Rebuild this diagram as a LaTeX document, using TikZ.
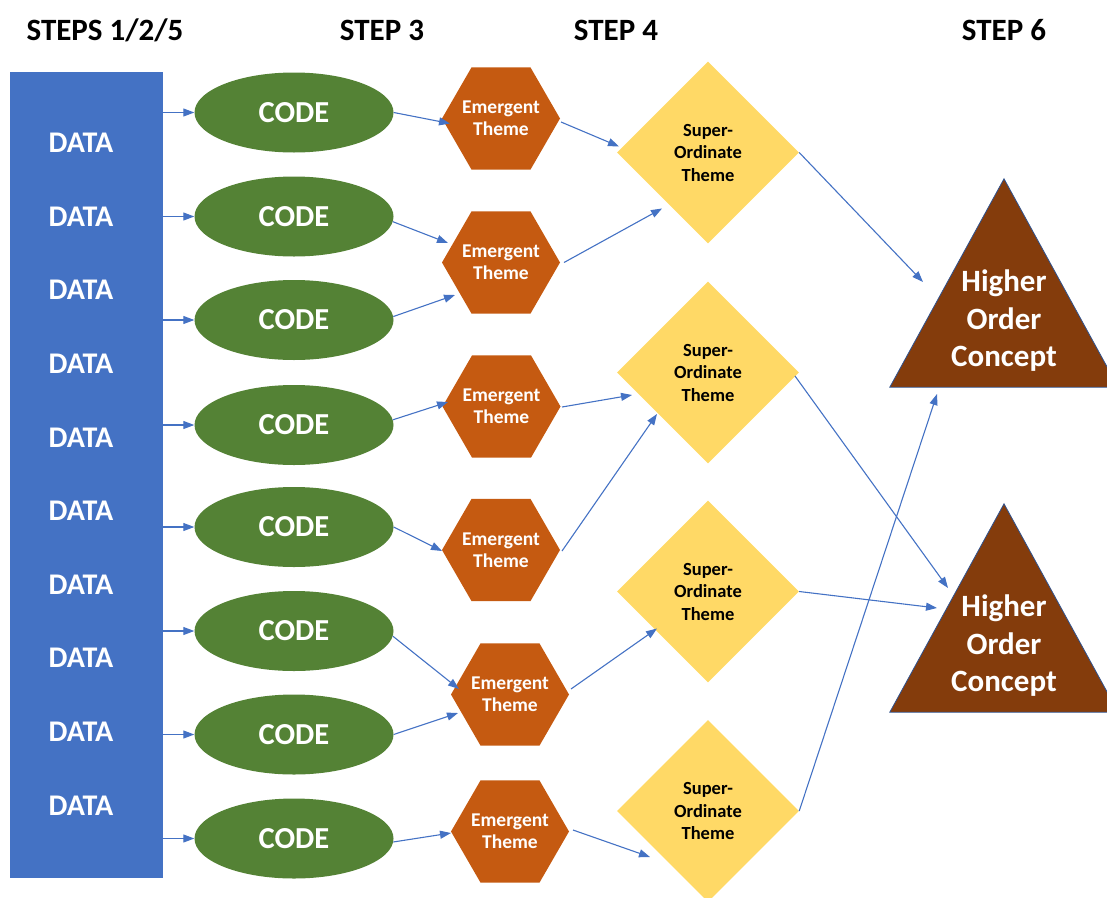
\documentclass[tikz,border=0pt]{standalone}
\usepackage{fontspec}
\setmainfont{Carlito}
\usetikzlibrary{shapes.geometric,arrows.meta}
\definecolor{databl}{HTML}{4472C4}
\definecolor{codegr}{HTML}{548235}
\definecolor{emor}{HTML}{C55A11}
\definecolor{supy}{HTML}{FFD966}
\definecolor{hobr}{HTML}{843C0C}
\definecolor{edgebl}{HTML}{2F528F}
\begin{document}
\begin{tikzpicture}[x=1pt,y=-1pt,
  hdr/.style={font=\fontsize{31}{33}\selectfont\bfseries, text=black, inner sep=0},
  datatxt/.style={font=\fontsize{30}{32}\selectfont\bfseries, text=white, inner sep=0},
  databox/.style={fill=databl, minimum width=153pt, minimum height=806pt, inner sep=0},
  codebox/.style={ellipse, fill=codegr, minimum width=199pt, minimum height=80pt, inner sep=0,
    text=white, font=\fontsize{30.5}{32}\selectfont\bfseries},
  emerbox/.style={regular polygon, regular polygon sides=6, minimum size=118pt, inner sep=-15pt,
    fill=emor, text=white, align=center, font=\fontsize{19.5}{22}\selectfont\bfseries},
  supbox/.style={diamond, fill=supy, minimum width=182pt, minimum height=182pt, inner sep=0,
    align=center, font=\fontsize{18.5}{22.5}\selectfont\bfseries},
  hobox/.style={minimum width=228pt, minimum height=208pt, inner sep=0},
  hotxt/.style={text=white, align=center, font=\fontsize{31}{37.5}\selectfont\bfseries, inner sep=0},
  link/.style={draw=databl, line width=1.1pt, -{Triangle[length=11pt, width=8pt]}}
]
\useasboundingbox (0,0) rectangle (1107,897);
\clip (0,0) rectangle (1107,897);

% column headings
\node[hdr] (h125) at (105,30) {STEPS 1/2/5};
\node[hdr] (hs3)  at (382,30) {STEP 3};
\node[hdr] (hs4)  at (616,30) {STEP 4};
\node[hdr] (hs6)  at (1004,30) {STEP 6};

% data column
\node[databox] (data) at (86.5,475) {};
\foreach \k in {0,...,9}
  \node[datatxt] (dt\k) at (81,143+73.6*\k) {DATA};

% codes
\foreach \n/\y in {1/112.5,2/216.5,3/320,4/425,5/527,6/631,7/734.5,8/838.5}
  \node[codebox] (c\n) at (294,\y) {CODE};

% emergent themes
\node[emerbox] (e1) at (501,118.5) {Emergent\\Theme};
\node[emerbox] (e2) at (501,262.5) {Emergent\\Theme};
\node[emerbox] (e3) at (501.5,406.5) {Emergent\\Theme};
\node[emerbox] (e4) at (501,550) {Emergent\\Theme};
\node[emerbox] (e5) at (510,694.5) {Emergent\\Theme};
\node[emerbox] (e6) at (510,831.5) {Emergent\\Theme};

% super-ordinate themes
\node[supbox] (s1) at (708,152.5) {Super-\\Ordinate\\Theme};
\node[supbox] (s2) at (708,372.5) {Super-\\Ordinate\\Theme};
\node[supbox] (s3) at (708,591.5) {Super-\\Ordinate\\Theme};
\node[supbox] (s4) at (708,811) {Super-\\Ordinate\\Theme};

% higher order concepts
\foreach \n/\y in {1/283,2/608}{
  \node[hobox] (t\n) at (1004,\y) {};
  \filldraw[fill=hobr, draw=edgebl, line width=0.8pt]
    (t\n.south west) -- (t\n.north) -- (t\n.south east) -- cycle;
  \node[hotxt] (tt\n) at (1004,\y+38) {Higher\\Order\\Concept};
}

% data -> codes
\foreach \n in {1,...,8}
  \draw[link] (data.east |- c\n.west) -- (c\n.west);

% codes -> emergent themes
\draw[link] (c1.east) -- ([shift={(-51,5)}]e1.center);
\draw[link] (c2.-3) -- ([shift={(-53,-19.5)}]e2.center);
\draw[link] (c3.2) -- ([shift={(-46,32.5)}]e2.center);
\draw[link] (c4.3.5) -- ([shift={(-53.5,-4.5)}]e3.center);
\draw[link] (c5.east) -- ([shift={(-59,1)}]e4.center);
\draw[link] (c6.-3.5) -- ([shift={(-51,-5.5)}]e5.center);
\draw[link] (c7.east) -- ([shift={(-52,18.5)}]e5.center);
\draw[link] (c8.-2.6) -- ([shift={(-59,1.5)}]e6.center);

% emergent -> super-ordinate themes
\draw[link] ([shift={(60,3.5)}]e1.center) -- ([shift={(-89,-6)}]s1.center);
\draw[link] ([shift={(63,0)}]e2.center) -- ([shift={(-46,56)}]s1.center);
\draw[link] ([shift={(60.5,0.5)}]e3.center) -- ([shift={(-76,22.5)}]s2.center);
\draw[link] ([shift={(61,1)}]e4.center) -- ([shift={(-51,41.5)}]s2.center);
\draw[link] ([shift={(61,-5.5)}]e5.center) -- ([shift={(-51,37)}]s3.center);
\draw[link] ([shift={(63,-1.5)}]e6.center) -- ([shift={(-58,46)}]s4.center);

% super-ordinate themes -> higher order concepts
\draw[link] (s1.east) -- ([shift={(-81,-1)}]t1.center);
\draw[link] ([shift={(87,3.5)}]s2.center) -- ([shift={(-56,-20)}]t2.center);
\draw[link] (s3.east) -- ([shift={(-67,0)}]t2.center);
\draw[link] (s4.east) -- ([shift={(-67,111)}]t1.center);
\end{tikzpicture}
\end{document}
